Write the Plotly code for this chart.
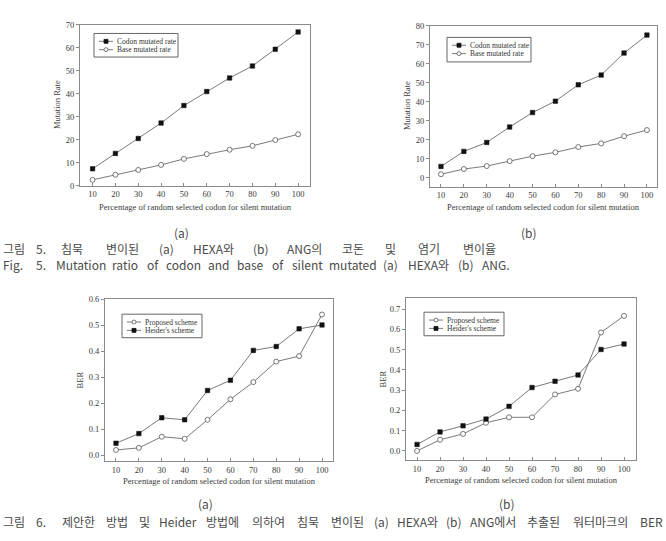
import plotly.graph_objects as go

W, H = 666, 541

x_pct = [10, 20, 30, 40, 50, 60, 70, 80, 90, 100]
hexa_codon = [7.3, 14.0, 20.5, 27.2, 34.8, 40.9, 46.8, 52.0, 59.3, 66.8]
hexa_base = [2.5, 4.7, 6.8, 9.0, 11.6, 13.7, 15.6, 17.3, 19.8, 22.3]
ang_codon = [6.0, 13.9, 18.6, 26.7, 34.3, 40.3, 48.9, 54.0, 65.6, 75.0]
ang_base = [1.9, 4.6, 6.2, 8.8, 11.4, 13.4, 16.2, 18.1, 21.9, 25.1]
hexa_prop = [0.021, 0.029, 0.072, 0.064, 0.137, 0.216, 0.282, 0.361, 0.382, 0.542]
hexa_heider = [0.047, 0.084, 0.145, 0.137, 0.250, 0.289, 0.404, 0.419, 0.487, 0.502]
ang_prop = [0.0, 0.055, 0.084, 0.139, 0.166, 0.166, 0.279, 0.307, 0.585, 0.667]
ang_heider = [0.032, 0.094, 0.124, 0.157, 0.220, 0.313, 0.344, 0.375, 0.501, 0.528]

x_title = "Percentage of random selected codon for silent mutation"
cap5_ko = ["그림", "5.", "침묵", "변이된", "(a)", "HEXA와", "(b)", "ANG의", "코돈", "및", "염기", "변이율"]
cap5_en = ["Fig.", "5.", "Mutation", "ratio", "of", "codon", "and", "base", "of", "silent", "mutated",
           "(a)", "HEXA와", "(b)", "ANG."]
cap6_ko = ["그림", "6.", "제안한", "방법", "및", "Heider", "방법에", "의하여", "침묵", "변이된", "(a)", "HEXA와",
           "(b)", "ANG에서", "추출된", "워터마크의", "BER"]

SERIF = "Liberation Serif, Times New Roman, serif"
SANS = "Noto Sans CJK KR, Liberation Sans, sans-serif"
LINE = "#7a7a7a"
AX = "#8a8a8a"
TXT = "#3a3a3a"

def fx(p):
    return p / W

def fy(p):
    return 1 - p / H

panels = [
    dict(box=(80, 310, 20, 184), xr=[4.5, 105.2], yr=[0, 70], dt=10, fmt="d", yt="Mutation Rate",
         s=[("Codon mutated rate", hexa_codon, True), ("Base mutated rate", hexa_base, False)],
         leg=(94, 29, 178, 53), xt=22, yt_off=23),
    dict(box=(430, 657, 21, 185), xr=[5.2, 104.4], yr=[-4.6, 80], dt=10, fmt="d", yt="Mutation Rate",
         s=[("Codon mutated rate", ang_codon, True), ("Base mutated rate", ang_base, False)],
         leg=(447, 33, 531, 58), xt=21, yt_off=23),
    dict(box=(105, 333, 300, 465), xr=[5.2, 104.8], yr=[-0.023, 0.6], dt=0.1, fmt=".1f", yt="BER",
         s=[("Proposed scheme", hexa_prop, False), ("Heider's scheme", hexa_heider, True)],
         leg=(122, 315, 202, 339), xt=20, yt_off=25),
    dict(box=(406, 636, 299, 464), xr=[5.2, 105.2], yr=[-0.047, 0.753], dt=0.1, fmt=".1f", yt="BER",
         s=[("Proposed scheme", ang_prop, False), ("Heider's scheme", ang_heider, True)],
         leg=(424, 313, 504, 337), xt=20, yt_off=23),
]

fig = go.Figure()
shapes = []
annotations = []
layout = {}

for i, p in enumerate(panels):
    k = "" if i == 0 else str(i + 1)
    l, r, t, b = p["box"]
    layout["xaxis" + k] = dict(
        domain=[fx(l), fx(r)], range=p["xr"], anchor="y" + k, tickmode="array", tickvals=x_pct,
        showline=True, mirror=True, linecolor=AX, linewidth=1, ticks="inside", ticklen=3,
        tickcolor=AX, showgrid=False, zeroline=False,
        tickfont=dict(family=SERIF, size=8.5, color=TXT),
    )
    layout["yaxis" + k] = dict(
        domain=[fy(b), fy(t)], range=p["yr"], anchor="x" + k, dtick=p["dt"], tick0=0,
        tickformat=p["fmt"], showline=True, mirror=True, linecolor=AX, linewidth=1,
        ticks="outside", ticklen=3, tickcolor=AX, showgrid=False, zeroline=False,
        tickfont=dict(family=SERIF, size=8.5, color=TXT),
    )
    for name, vals, filled in p["s"]:
        fig.add_trace(go.Scatter(
            x=x_pct, y=vals, name=name, mode="lines+markers", showlegend=False,
            xaxis="x" + k, yaxis="y" + k,
            line=dict(color=LINE, width=1),
            marker=dict(symbol="square" if filled else "circle", size=4.5 if filled else 5,
                        color="#111" if filled else "white",
                        line=dict(color="#111" if filled else "#555", width=0.5 if filled else 0.8)),
        ))
    annotations.append(dict(text=x_title, x=fx((l + r) / 2), y=fy(b + p["xt"]), xref="paper", yref="paper",
                            showarrow=False, font=dict(family=SERIF, size=8.5, color=TXT),
                            xanchor="center", yanchor="middle"))
    annotations.append(dict(text=p["yt"], x=fx(l - p["yt_off"]), y=fy((t + b) / 2), xref="paper", yref="paper",
                            showarrow=False, textangle=-90, font=dict(family=SERIF, size=8.5, color=TXT),
                            xanchor="center", yanchor="middle"))
    lx0, ly0, lx1, ly1 = p["leg"]
    shapes.append(dict(type="rect", xref="paper", yref="paper", x0=fx(lx0), x1=fx(lx1), y0=fy(ly1), y1=fy(ly0),
                       line=dict(color="#666", width=1), fillcolor="white", layer="above"))
    for j, (name, vals, filled) in enumerate(p["s"]):
        yy = ly0 + 8 + 8.5 * j
        shapes.append(dict(type="line", xref="paper", yref="paper", x0=fx(lx0 + 5), x1=fx(lx0 + 19),
                           y0=fy(yy), y1=fy(yy), line=dict(color=LINE, width=1), layer="above"))
        shapes.append(dict(type="rect" if filled else "circle", xref="paper", yref="paper",
                           x0=fx(lx0 + 10), x1=fx(lx0 + 14), y0=fy(yy + 2), y1=fy(yy - 2),
                           line=dict(color="#111" if filled else "#555", width=0.8),
                           fillcolor="#111" if filled else "white", layer="above"))
        annotations.append(dict(text=name, x=fx(lx0 + 21), y=fy(yy), xref="paper", yref="paper",
                                showarrow=False, xanchor="left", yanchor="middle",
                                font=dict(family=SERIF, size=7.5, color="#333")))

CAP = "#4a4a4a"
CS = 12

def est_width(tok, size):
    w = 0.0
    for ch in tok:
        if "\uac00" <= ch <= "\ud7a3":
            w += 1.0
        elif ch.isupper():
            w += 0.6
        elif ch.isdigit():
            w += 0.55
        elif ch in ".,":
            w += 0.25
        elif ch in "()":
            w += 0.3
        elif ch in "mw":
            w += 0.8
        elif ch in "ilt'f":
            w += 0.3
        else:
            w += 0.5
    return w * size

def put(text, x, y, anchor="center"):
    annotations.append(dict(text=text, x=fx(x), y=fy(y), xref="paper", yref="paper", showarrow=False,
                            xanchor=anchor, yanchor="middle", font=dict(family=SANS, size=CS, color=CAP)))

def caption(tokens, x1, y):
    # label ("그림"/"Fig.") and number in fixed columns, body justified
    put(tokens[0], 1, y, "left")
    put(tokens[1], 41, y)
    body = tokens[2:]
    x0 = 60
    widths = [est_width(t, CS) for t in body]
    gap = (x1 - x0 - sum(widths)) / (len(body) - 1)
    x = x0
    for tok, w in zip(body, widths):
        put(tok, x + w / 2, y)
        x += w + gap

put("(a)", 181, 232)
put("(b)", 529, 232)
caption(cap5_ko, 497, 248)
caption(cap5_en, 508, 264)
put("(a)", 205, 508)
put("(b)", 507, 508)
caption(cap6_ko, 662, 526)

fig.update_layout(
    width=W, height=H, margin=dict(l=0, r=0, t=0, b=0), autosize=False,
    paper_bgcolor="white", plot_bgcolor="white",
    shapes=shapes, annotations=annotations, **layout,
)

fig.write_html("out.html")
